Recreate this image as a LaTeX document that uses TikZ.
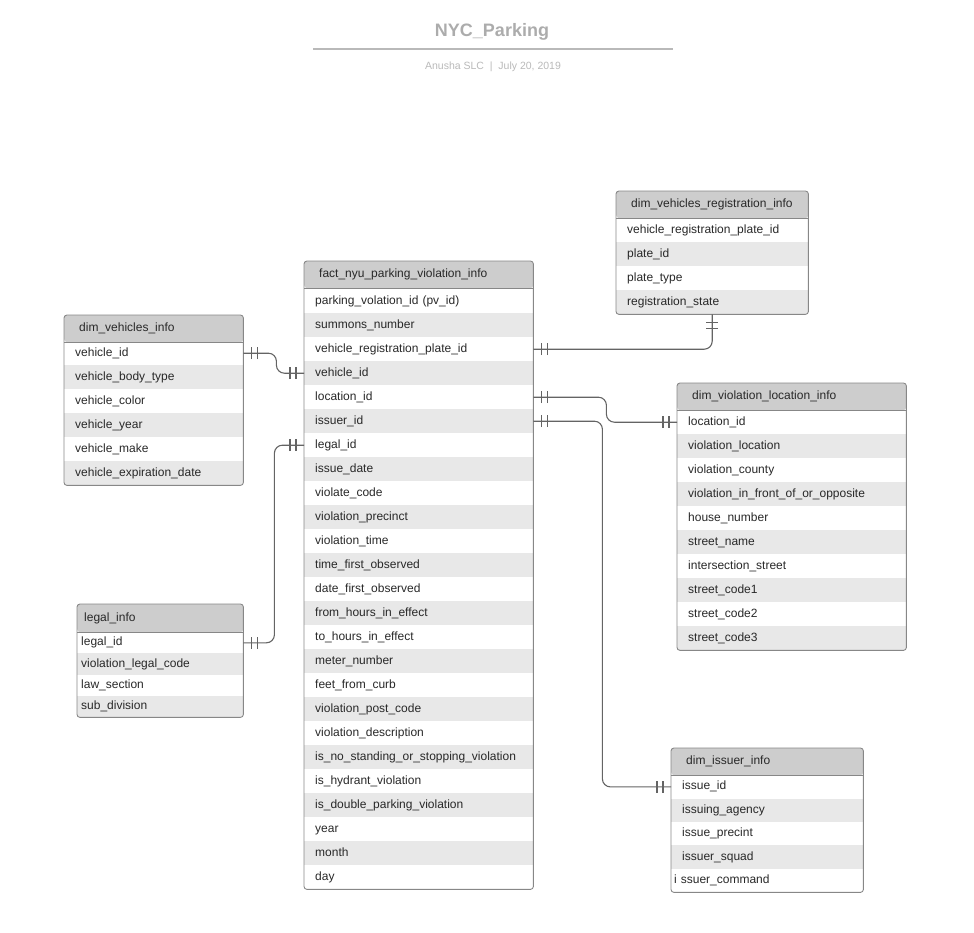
\documentclass[tikz,border=0pt]{standalone}
\usepackage{fontspec}
\setmainfont{Liberation Sans}
\usetikzlibrary{decorations.markings}
\definecolor{headgray}{RGB}{205,205,205}
\definecolor{rowgray}{RGB}{232,232,232}
\definecolor{framegray}{RGB}{135,135,135}
\definecolor{linkgray}{RGB}{100,100,100}
\definecolor{titlegray}{RGB}{172,172,172}
\definecolor{subgray}{RGB}{185,185,185}
\definecolor{txt}{RGB}{40,40,40}
\begin{document}
\begin{tikzpicture}
  [x=1pt, y=-1pt]
  \tikzstyle{field} = [anchor=north west, inner xsep=11pt, inner ysep=0pt, minimum height=24pt, text height=9pt, text depth=3pt, align=left, text=txt, font=\fontsize{12}{14}\selectfont];
  \tikzstyle{head} = [field, fill=headgray, rounded corners=3pt, inner xsep=15pt, minimum height=27pt];
  \tikzstyle{frame} = [draw=framegray, line width=0.9pt, rounded corners=3pt];
  \tikzstyle{head_rule} = [draw=framegray, line width=0.9pt];
  \tikzstyle{reg_row} = [field, text width=170pt];
  \tikzstyle{reg_gray} = [reg_row, fill=rowgray];
  \tikzstyle{fact_row} = [field, text width=207pt];
  \tikzstyle{fact_gray} = [fact_row, fill=rowgray];
  \tikzstyle{veh_row} = [field, text width=157pt];
  \tikzstyle{veh_gray} = [veh_row, fill=rowgray];
  \tikzstyle{legal_row} = [field, inner xsep=4pt, minimum height=21.25pt, text width=158pt];
  \tikzstyle{legal_gray} = [legal_row, fill=rowgray];
  \tikzstyle{loc_row} = [field, text width=207pt];
  \tikzstyle{loc_gray} = [loc_row, fill=rowgray];
  \tikzstyle{iss_row} = [field, minimum height=23.4pt, text width=170pt];
  \tikzstyle{iss_gray} = [iss_row, fill=rowgray];
  \tikzstyle{one_one} = [draw=linkgray, line width=1.1pt, rounded corners=8pt, postaction={decorate},
    decoration={markings,
      mark=at position 8pt with {\draw[linkgray, line width=1.1pt] (0,-6pt) -- (0,6pt);},
      mark=at position 14pt with {\draw[linkgray, line width=1.1pt] (0,-6pt) -- (0,6pt);},
      mark=at position -8pt with {\draw[linkgray, line width=1.1pt] (0,-6pt) -- (0,6pt);},
      mark=at position -14pt with {\draw[linkgray, line width=1.1pt] (0,-6pt) -- (0,6pt);}}];

  \useasboundingbox (0,0) rectangle (974,933);

  \node[anchor=base, text=titlegray, font=\fontsize{18}{20}\selectfont\bfseries] (title) at (492,37) {NYC\_Parking};
  \draw[subgray, line width=1.2pt] (313,49) -- (673,49);
  \node[anchor=base, text=subgray, font=\fontsize{10.5}{12}\selectfont] (subtitle) at (493,70) {Anusha SLC~~|~~July 20, 2019};

  \node[head, text width=162pt] (reg_head) at (616,191) {dim\_vehicles\_registration\_info};
  \node[reg_row]  (reg_plate) at (616,218) {vehicle\_registration\_plate\_id};
  \node[reg_gray] (reg_pid)   at (616,242) {plate\_id};
  \node[reg_row]  (reg_type)  at (616,266) {plate\_type};
  \node[reg_gray] (reg_state) at (616,290) {registration\_state};
  \draw[head_rule] (reg_head.south west) -- (reg_head.south east);
  \draw[frame] (reg_head.north west) rectangle (reg_state.south east);

  \node[head, text width=199pt] (fact_head) at (304,261) {fact\_nyu\_parking\_violation\_info};
  \node[fact_row]  (fact_pvid)     at (304,289) {parking\_volation\_id (pv\_id)};
  \node[fact_gray] (fact_summons)  at (304,313) {summons\_number};
  \node[fact_row]  (fact_plate)    at (304,337) {vehicle\_registration\_plate\_id};
  \node[fact_gray] (fact_vid)      at (304,361) {vehicle\_id};
  \node[fact_row]  (fact_loc)      at (304,385) {location\_id};
  \node[fact_gray] (fact_iss)      at (304,409) {issuer\_id};
  \node[fact_row]  (fact_legal)    at (304,433) {legal\_id};
  \node[fact_gray] (fact_date)     at (304,457) {issue\_date};
  \node[fact_row]  (fact_code)     at (304,481) {violate\_code};
  \node[fact_gray] (fact_precinct) at (304,505) {violation\_precinct};
  \node[fact_row]  (fact_time)     at (304,529) {violation\_time};
  \node[fact_gray] (fact_tfirst)   at (304,553) {time\_first\_observed};
  \node[fact_row]  (fact_dfirst)   at (304,577) {date\_first\_observed};
  \node[fact_gray] (fact_from)     at (304,601) {from\_hours\_in\_effect};
  \node[fact_row]  (fact_to)       at (304,625) {to\_hours\_in\_effect};
  \node[fact_gray] (fact_meter)    at (304,649) {meter\_number};
  \node[fact_row]  (fact_curb)     at (304,673) {feet\_from\_curb};
  \node[fact_gray] (fact_post)     at (304,697) {violation\_post\_code};
  \node[fact_row]  (fact_descr)    at (304,721) {violation\_description};
  \node[fact_gray] (fact_standing) at (304,745) {is\_no\_standing\_or\_stopping\_violation};
  \node[fact_row]  (fact_hydrant)  at (304,769) {is\_hydrant\_violation};
  \node[fact_gray] (fact_double)   at (304,793) {is\_double\_parking\_violation};
  \node[fact_row]  (fact_year)     at (304,817) {year};
  \node[fact_gray] (fact_month)    at (304,841) {month};
  \node[fact_row]  (fact_day)      at (304,865) {day};
  \draw[head_rule] (fact_head.south west) -- (fact_head.south east);
  \draw[frame] (fact_head.north west) rectangle (fact_day.south east);

  \node[head, text width=149pt] (veh_head) at (64,315) {dim\_vehicles\_info};
  \node[veh_row]  (veh_vid)    at (64,341) {vehicle\_id};
  \node[veh_gray] (veh_body)   at (64,365) {vehicle\_body\_type};
  \node[veh_row]  (veh_color)  at (64,389) {vehicle\_color};
  \node[veh_gray] (veh_year)   at (64,413) {vehicle\_year};
  \node[veh_row]  (veh_make)   at (64,437) {vehicle\_make};
  \node[veh_gray] (veh_expiry) at (64,461) {vehicle\_expiration\_date};
  \draw[head_rule] (veh_head.south west) -- (veh_head.south east);
  \draw[frame] (veh_head.north west) rectangle (veh_expiry.south east);

  \node[head, inner xsep=7pt, minimum height=28pt, text width=152pt] (legal_head) at (77,604) {legal\_info};
  \node[legal_row]  (legal_lid)     at (77,632)    {legal\_id};
  \node[legal_gray] (legal_code)    at (77,653.25) {violation\_legal\_code};
  \node[legal_row]  (legal_section) at (77,674.5)  {law\_section};
  \node[legal_gray] (legal_subdiv)  at (77,695.75) {sub\_division};
  \draw[head_rule] (legal_head.south west) -- (legal_head.south east);
  \draw[frame] (legal_head.north west) rectangle (legal_subdiv.south east);

  \node[head, text width=199pt] (loc_head) at (677,383) {dim\_violation\_location\_info};
  \node[loc_row]  (loc_lid)     at (677,410) {location\_id};
  \node[loc_gray] (loc_place)   at (677,434) {violation\_location};
  \node[loc_row]  (loc_county)  at (677,458) {violation\_county};
  \node[loc_gray] (loc_front)   at (677,482) {violation\_in\_front\_of\_or\_opposite};
  \node[loc_row]  (loc_house)   at (677,506) {house\_number};
  \node[loc_gray] (loc_street)  at (677,530) {street\_name};
  \node[loc_row]  (loc_cross)   at (677,554) {intersection\_street};
  \node[loc_gray] (loc_code1)   at (677,578) {street\_code1};
  \node[loc_row]  (loc_code2)   at (677,602) {street\_code2};
  \node[loc_gray] (loc_code3)   at (677,626) {street\_code3};
  \draw[head_rule] (loc_head.south west) -- (loc_head.south east);
  \draw[frame] (loc_head.north west) rectangle (loc_code3.south east);

  \node[head, text width=162pt] (iss_head) at (671,748) {dim\_issuer\_info};
  \node[iss_row]  (iss_id)      at (671,775)   {issue\_id};
  \node[iss_gray] (iss_agency)  at (671,798.4) {issuing\_agency};
  \node[iss_row]  (iss_precint) at (671,821.8) {issue\_precint};
  \node[iss_gray] (iss_squad)   at (671,845.2) {issuer\_squad};
  \node[iss_row, inner xsep=3pt, text width=186pt] (iss_command) at (671,868.6) {i ssuer\_command};
  \draw[head_rule] (iss_head.south west) -- (iss_head.south east);
  \draw[frame] (iss_head.north west) rectangle (iss_command.south east);

  \draw[one_one] (veh_vid.east) -- ++(33,0) |- (fact_vid.west);
  \draw[one_one] (legal_lid.east) -- ++(31,0) |- (fact_legal.west);
  \draw[one_one] (fact_plate.east) -| (reg_state.south);
  \draw[one_one] (fact_loc.east) -- ++(73,0) |- (loc_lid.west);
  \draw[one_one] (fact_iss.east) -- ++(69,0) |- (iss_id.west);

\end{tikzpicture}
\end{document}
